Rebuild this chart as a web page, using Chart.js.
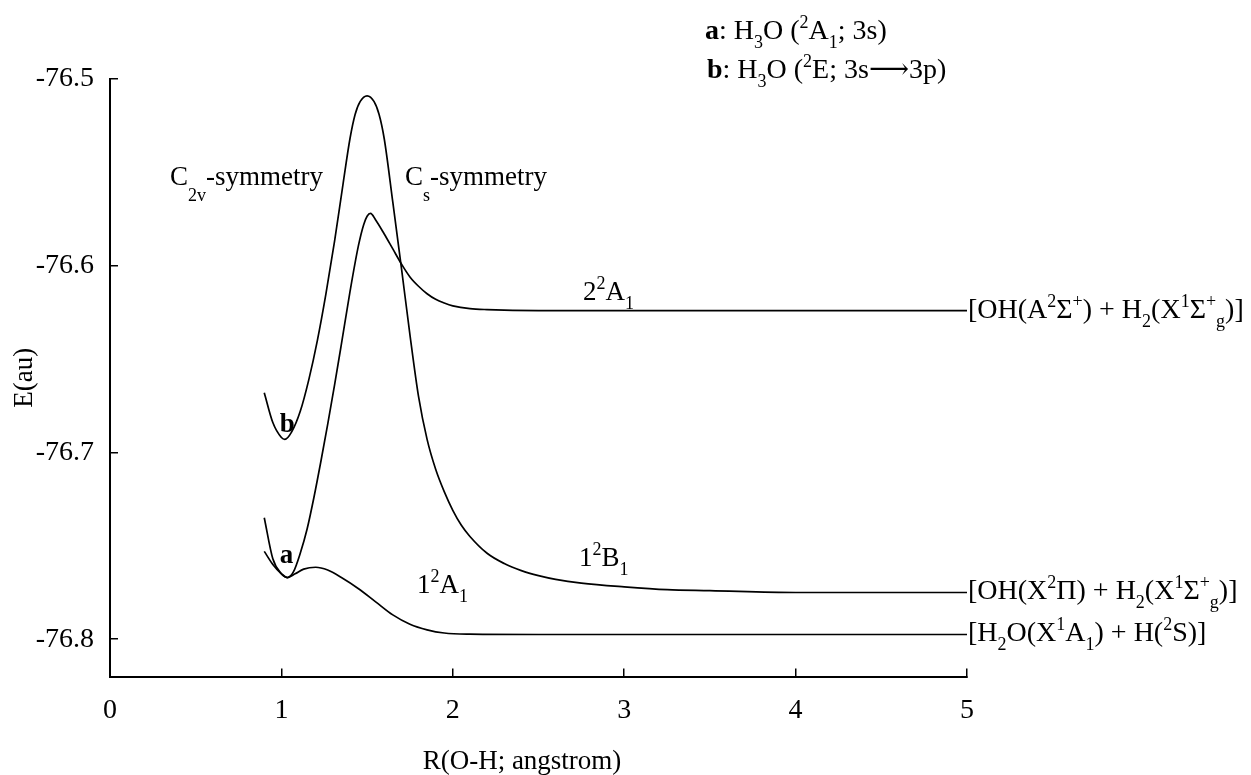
<!DOCTYPE html>
<html>
<head>
<meta charset="utf-8">
<script src="https://cdn.jsdelivr.net/npm/chart.js@4.4.1/dist/chart.umd.min.js"></script>
<style>
  html, body { margin: 0; padding: 0; background: #fff; }
  #wrap { width: 1251px; height: 775px; }
</style>
</head>
<body>
<div id="wrap"><canvas id="pes" width="1251" height="775"></canvas></div>
<script>
// R(O-H) in angstrom, E in au
// state b: up over the tall barrier, down to the 1^2B1 limit
const rB = [0.90, 0.95, 1.00, 1.02, 1.06, 1.11, 1.16, 1.21, 1.26, 1.31, 1.36, 1.40, 1.43, 1.46, 1.50, 1.54, 1.57, 1.60, 1.65, 1.70, 1.75, 1.80, 1.85, 1.90, 1.95, 2.00, 2.05, 2.10, 2.20, 2.30, 2.40, 2.50, 2.60, 2.75, 3.00, 3.25, 3.50, 4.00, 5.00];
const eB = [-76.668, -76.684, -76.692, -76.693, -76.689, -76.678, -76.661, -76.640, -76.615, -76.587, -76.556, -76.532, -76.519, -76.512, -76.509, -76.512, -76.519, -76.532, -76.566, -76.601, -76.637, -76.670, -76.693, -76.709, -76.721, -76.731, -76.739, -76.745, -76.754, -76.7595, -76.7633, -76.766, -76.768, -76.770, -76.772, -76.7735, -76.774, -76.775, -76.775];

// state a: up over the lower barrier, down to the 2^2A1 limit
const rA = [0.90, 0.95, 1.00, 1.035, 1.07, 1.11, 1.15, 1.19, 1.23, 1.27, 1.31, 1.35, 1.40, 1.45, 1.48, 1.50, 1.52, 1.55, 1.60, 1.65, 1.70, 1.75, 1.80, 1.85, 1.90, 1.95, 2.00, 2.10, 2.20, 2.50, 3.00, 4.00, 5.00];
const eA = [-76.735, -76.757, -76.765, -76.767, -76.764, -76.754, -76.741, -76.724, -76.705, -76.685, -76.664, -76.642, -76.614, -76.589, -76.578, -76.5735, -76.572, -76.5755, -76.583, -76.591, -76.599, -76.606, -76.611, -76.615, -76.618, -76.620, -76.6215, -76.623, -76.6235, -76.624, -76.624, -76.624, -76.624];

// ground state 1^2A1
const rX = [0.90, 0.95, 1.00, 1.035, 1.08, 1.13, 1.20, 1.27, 1.35, 1.45, 1.55, 1.65, 1.75, 1.85, 1.95, 2.10, 2.50, 3.00, 4.00, 5.00];
const eX = [-76.753, -76.760, -76.765, -76.767, -76.765, -76.7625, -76.7615, -76.763, -76.767, -76.773, -76.780, -76.787, -76.792, -76.795, -76.7967, -76.7973, -76.7975, -76.7975, -76.7975, -76.7975];

const xTicks = [0, 1, 2, 3, 4, 5];
const yTicks = [-76.8, -76.7, -76.6, -76.5];

const FONT = '"Liberation Serif", "Times New Roman", "DejaVu Serif", serif';

function pts(r, e) {
    return r.map((v, i) => ({ x: v, y: e[i] }));
}

// parts: [text, kind]  kind: '' normal, 'b' bold, '^' sup, '_' sub, '=' low sub
function drawRich(ctx, x, y, parts, size) {
    let cx = x;
    parts.forEach(p => {
        const kind = p[1] || '';
        let fs = size, dy = 0, weight = 'normal';
        if (kind === 'b') weight = 'bold';
        if (kind === '^') { fs = Math.round(size * 0.65); dy = -Math.round(size * 0.39); }
        if (kind === '_') { fs = Math.round(size * 0.65); dy = Math.round(size * 0.33); }
        if (kind === '=') { fs = Math.round(size * 0.65); dy = Math.round(size * 0.58); }
        ctx.font = weight + ' ' + fs + 'px ' + FONT;
        ctx.fillText(p[0], cx, y + dy);
        cx += ctx.measureText(p[0]).width;
    });
}

// labels next to the curves, anchored in data units (r, E of baseline)
const curveLabels = [
    { r: 0.35, e: -76.5567, parts: [['C'], ['2v', '='], ['-symmetry']] },
    { r: 1.721, e: -76.5567, parts: [['C'], ['s', '='], ['-symmetry']] },
    { r: 2.76, e: -76.6183, parts: [['2'], ['2', '^'], ['A'], ['1', '_']] },
    { r: 2.736, e: -76.7609, parts: [['1'], ['2', '^'], ['B'], ['1', '_']] },
    { r: 1.791, e: -76.7754, parts: [['1'], ['2', '^'], ['A'], ['1', '_']] },
    { r: 0.99, e: -76.689, parts: [['b', 'b']] },
    { r: 0.99, e: -76.7592, parts: [['a', 'b']] }
];

// asymptote labels at the right end of each curve
const endLabels = [
    { e: eA, parts: [['[OH(A'], ['2', '^'], ['\u03A3'], ['+', '^'], [') + H'], ['2', '_'], ['(X'], ['1', '^'], ['\u03A3'], ['+', '^'], ['g', '_'], [')]']] },
    { e: eB, parts: [['[OH(X'], ['2', '^'], ['\u03A0) + H'], ['2', '_'], ['(X'], ['1', '^'], ['\u03A3'], ['+', '^'], ['g', '_'], [')]']] },
    { e: eX, parts: [['[H'], ['2', '_'], ['O(X'], ['1', '^'], ['A'], ['1', '_'], [') + H('], ['2', '^'], ['S)]']] }
];

const legendLines = [
    { x: 705, y: 39, parts: [['a', 'b'], [': H'], ['3', '_'], ['O ('], ['2', '^'], ['A'], ['1', '_'], ['; 3s)']] },
    { x: 707, y: 78, parts: [['b', 'b'], [': H'], ['3', '_'], ['O ('], ['2', '^'], ['E; 3s\u27F63p)']] }
];

const textPlugin = {
    id: 'pesText',
    afterDraw(chart) {
        const { ctx } = chart;
        const xs = chart.scales.x, ys = chart.scales.y;
        ctx.save();
        ctx.fillStyle = '#000';
        ctx.textAlign = 'left';
        ctx.textBaseline = 'alphabetic';
        curveLabels.forEach(l => {
            drawRich(ctx, xs.getPixelForValue(l.r), ys.getPixelForValue(l.e), l.parts, 27);
        });
        endLabels.forEach(l => {
            const last = l.e[l.e.length - 1];
            drawRich(ctx, xs.getPixelForValue(5) + 1, ys.getPixelForValue(last) + 7, l.parts, 28);
        });
        legendLines.forEach(l => drawRich(ctx, l.x, l.y, l.parts, 28));
        ctx.font = '27px ' + FONT;
        ctx.textAlign = 'center';
        ctx.textBaseline = 'middle';
        ctx.fillText('R(O-H; angstrom)', 522, 762);
        ctx.restore();
    }
};

function curve(r, e) {
    return {
        data: pts(r, e),
        borderColor: '#000',
        borderWidth: 1.7,
        pointRadius: 0,
        fill: false,
        cubicInterpolationMode: 'monotone'
    };
}

Chart.defaults.font.family = FONT;
Chart.defaults.color = '#000';

new Chart(document.getElementById('pes'), {
    type: 'line',
    data: {
        datasets: [curve(rB, eB), curve(rA, eA), curve(rX, eX)]
    },
    options: {
        responsive: false,
        animation: false,
        devicePixelRatio: 1,
        layout: { padding: { left: 0, top: 79, right: 284, bottom: 0 } },
        plugins: { legend: { display: false }, tooltip: { enabled: false } },
        scales: {
            x: {
                type: 'linear',
                min: 0,
                max: 5,
                afterBuildTicks: s => { s.ticks = xTicks.map(v => ({ value: v })); },
                afterFit: s => { s.height = 98.5; },
                grid: { drawOnChartArea: false, drawTicks: true, tickLength: -8, color: '#000', lineWidth: 1.5 },
                border: { display: true, color: '#000', width: 2 },
                ticks: { font: { size: 28 }, padding: 25, maxRotation: 0, autoSkip: false, callback: v => String(v) }
            },
            y: {
                type: 'linear',
                min: -76.82,
                max: -76.5,
                afterBuildTicks: s => { s.ticks = yTicks.map(v => ({ value: v })); },
                afterFit: s => { s.width = 110; },
                grid: { drawOnChartArea: false, drawTicks: true, tickLength: -8, color: '#000', lineWidth: 1.5 },
                border: { display: true, color: '#000', width: 2 },
                ticks: { font: { size: 28 }, padding: 24, autoSkip: false, callback: v => v.toFixed(1) },
                title: { display: true, text: 'E(au)', font: { size: 27 }, padding: { top: 9, bottom: 0 } }
            }
        }
    },
    plugins: [textPlugin]
});
</script>
</body>
</html>
